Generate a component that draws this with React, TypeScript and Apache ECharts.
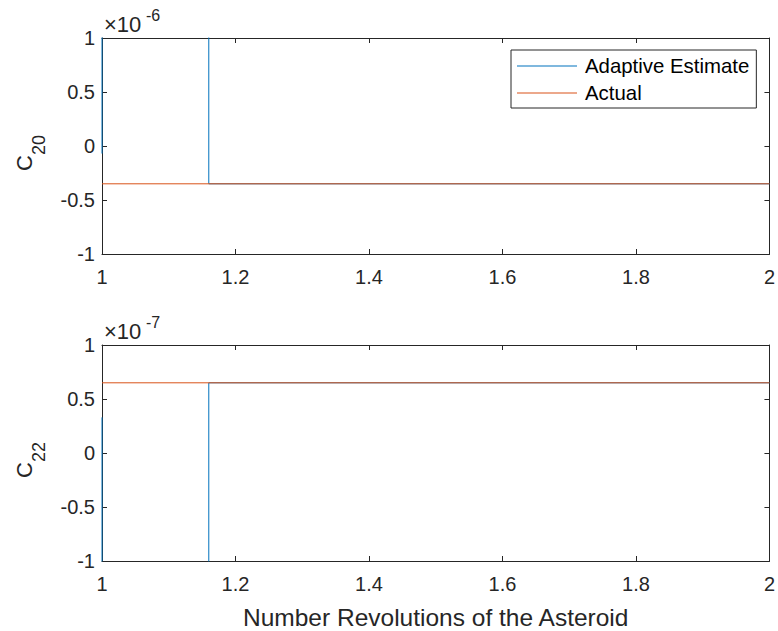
import React, { useEffect, useRef } from "react";
import * as echarts from "echarts";

// x values: revolutions of the asteroid
const xTop = [1, 1, 1.16, 1.16, 2];
// C20 (units of 1e-6)
const c20Estimate = [-0.07, 40, 40, -0.35, -0.35];
const c20Actual = [-0.35, -0.35];
// C22 (units of 1e-7)
const c22Estimate = [0.33, -40, -40, 0.65, 0.65];
const c22Actual = [0.65, 0.65];
const xActual = [1, 2];

const xTicks = [1, 1.2, 1.4, 1.6, 1.8, 2];
const yTicks = [-1, -0.5, 0, 0.5, 1];
const exp20 = "-6";
const exp22 = "-7";

const FONT = "Liberation Sans, Arial, Helvetica, sans-serif";
const AX = "#262626";
const BLUE = "#0072BD";
const ORANGE = "#D95319";

export default function App() {
  const ref = useRef<HTMLDivElement>(null);
  useEffect(() => {
    const chart = echarts.init(ref.current!, undefined, { renderer: "svg" });
    const grids = [
      { left: 102, top: 38, width: 670, height: 216 },
      { left: 102, top: 345, width: 670, height: 216 },
    ];
    const xBase = (gi: number, pos: "bottom" | "top", showLabel: boolean, name?: string) => ({
      type: "value" as const,
      gridIndex: gi,
      position: pos,
      min: xTicks[0],
      max: xTicks[xTicks.length - 1],
      interval: 0.2,
      axisLine: { show: true, onZero: false, lineStyle: { color: AX, width: 1 } },
      axisTick: { show: true, inside: true, length: 5, lineStyle: { color: AX } },
      axisLabel: {
        show: showLabel,
        margin: 13,
        color: AX,
        fontSize: 20,
        fontFamily: FONT,
        formatter: (v: number) => String(Math.round(v * 10) / 10),
      },
      splitLine: { show: false },
      name: name,
      nameLocation: "middle" as const,
      nameGap: 44,
      nameTextStyle: { color: AX, fontSize: 24.5, fontFamily: FONT },
    });
    const yBase = (gi: number, pos: "left" | "right", showLabel: boolean) => ({
      type: "value" as const,
      gridIndex: gi,
      position: pos,
      min: yTicks[0],
      max: yTicks[yTicks.length - 1],
      interval: 0.5,
      axisLine: { show: true, onZero: false, lineStyle: { color: AX, width: 1 } },
      axisTick: { show: true, inside: true, length: 5, lineStyle: { color: AX } },
      axisLabel: {
        show: showLabel,
        margin: 7,
        color: AX,
        fontSize: 20,
        fontFamily: FONT,
        formatter: (v: number) => String(v),
      },
      splitLine: { show: false },
      splitArea: { show: false },
    });
    const zip = (xs: number[], ys: number[]) => xs.map((x, i) => [x, ys[i]]);
    const lineSeries = (name: string, xi: number, yi: number, data: number[][], color: string) => ({
      type: "line" as const,
      name,
      xAxisIndex: xi,
      yAxisIndex: yi,
      data,
      symbol: "none",
      showSymbol: false,
      clip: true,
      lineStyle: { color, width: 1 },
      itemStyle: { color },
    });
    const expText = (top: number, exp: string) => [
      {
        type: "text",
        left: 104,
        top: top,
        style: { text: "×10", fontSize: 22, fontFamily: FONT, fill: AX },
      },
      {
        type: "text",
        left: 146,
        top: top - 6,
        style: { text: exp, fontSize: 16, fontFamily: FONT, fill: AX },
      },
    ];
    const yName = (cy: number, sub: string) => [
      {
        type: "text",
        x: 35,
        y: cy + 25,
        rotation: Math.PI / 2,
        style: { text: "C", fontSize: 22, fontFamily: FONT, fill: AX, textAlign: "left", textVerticalAlign: "bottom" },
      },
      {
        type: "text",
        x: 48,
        y: cy + 9,
        rotation: Math.PI / 2,
        style: { text: sub, fontSize: 18, fontFamily: FONT, fill: AX, textAlign: "left", textVerticalAlign: "bottom" },
      },
    ];
    chart.setOption({
      animation: false,
      backgroundColor: "#ffffff",
      grid: grids,
      xAxis: [
        xBase(0, "bottom", true),
        xBase(0, "top", false),
        xBase(1, "bottom", true, "Number Revolutions of the Asteroid"),
        xBase(1, "top", false),
      ],
      yAxis: [
        yBase(0, "left", true),
        yBase(0, "right", false),
        yBase(1, "left", true),
        yBase(1, "right", false),
      ],
      legend: {
        left: 511,
        top: 50,
        orient: "vertical",
        icon: "path://M0,0 L60,0 L60,1 L0,1 Z",
        data: [
          { name: "Adaptive Estimate", itemStyle: { color: BLUE } },
          { name: "Actual", itemStyle: { color: ORANGE } },
        ],
        backgroundColor: "#ffffff",
        borderColor: AX,
        borderWidth: 1,
        borderRadius: 0,
        padding: [5, 7, 4, 6],
        itemGap: 5,
        itemWidth: 62,
        itemHeight: 1,
        textStyle: { color: "#000", fontSize: 20.4, fontFamily: FONT, lineHeight: 22, padding: [0, 0, 0, 2] },
      },
      series: [
        lineSeries("Adaptive Estimate", 0, 0, zip(xTop, c20Estimate), BLUE),
        lineSeries("Actual", 0, 0, zip(xActual, c20Actual), ORANGE),
        lineSeries("Adaptive Estimate", 2, 2, zip(xTop, c22Estimate), BLUE),
        lineSeries("Actual", 2, 2, zip(xActual, c22Actual), ORANGE),
      ],
      graphic: [
        ...expText(13, exp20),
        ...expText(320, exp22),
        ...yName(146, "20"),
        ...yName(453, "22"),
      ],
    });
    return () => chart.dispose();
  }, []);
  return <div ref={ref} style={{ width: 778, height: 631, position: "absolute", left: 0, top: 0 }} />;
}
